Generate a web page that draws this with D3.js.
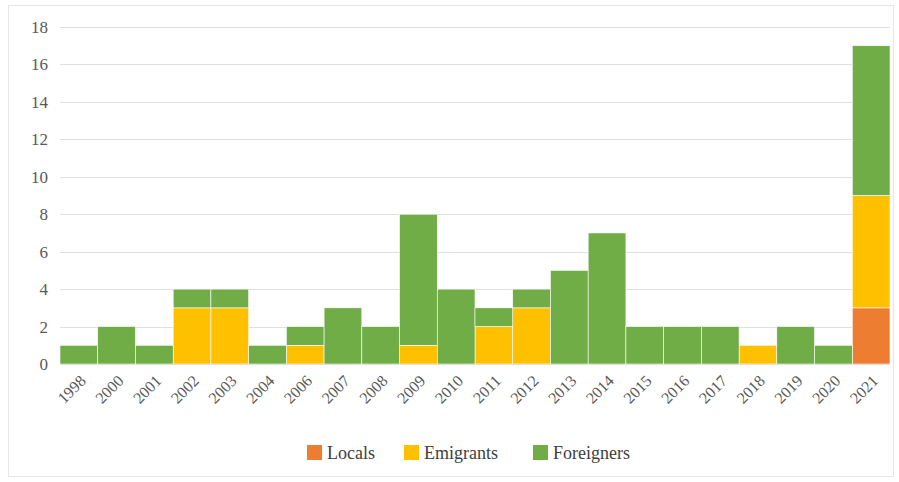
<!DOCTYPE html>
<html>
<head>
<meta charset="utf-8">
<script src="https://cdn.jsdelivr.net/npm/d3@7"></script>
<style>
  body { margin: 0; background: #fff; }
  svg { display: block; }
  svg text { font-family: 'Liberation Serif', serif !important; }
</style>
</head>
<body>
<svg id="chart"></svg>
<script>
// categories and series
var years = ['1998','2000','2001','2002','2003','2004','2006','2007','2008','2009','2010',
             '2011','2012','2013','2014','2015','2016','2017','2018','2019','2020','2021'];
var locals     = [0,0,0,0,0,0,0,0,0,0,0,0,0,0,0,0,0,0,0,0,0,3];
var emigrants  = [0,0,0,3,3,0,1,0,0,1,0,2,3,0,0,0,0,0,1,0,0,6];
var foreigners = [1,2,1,1,1,1,1,3,2,7,4,1,1,5,7,2,2,2,0,2,1,8];
var seriesNames = ['Locals', 'Emigrants', 'Foreigners'];
var yTicks = [0,2,4,6,8,10,12,14,16,18];

function main() {
    const width = 899;
    const height = 482;
    const left = 60, right = 890, top = 27, bottom = 364;
    const colors = { Locals: '#ED7D31', Emigrants: '#FFC000', Foreigners: '#70AD47' };
    const font = "'Liberation Serif', serif";

    const svg = d3.select('#chart')
        .attr('width', width)
        .attr('height', height);

    // outer frame
    svg.append('rect')
        .attr('x', 8.5).attr('y', 5.5)
        .attr('width', 885).attr('height', 471)
        .attr('fill', 'none')
        .attr('stroke', '#e6e6e6');

    var table = years.map(function(y, i) {
        return { year: y, Locals: locals[i], Emigrants: emigrants[i], Foreigners: foreigners[i] };
    });
    var stacked = d3.stack().keys(seriesNames)(table);

    var x = d3.scaleBand().domain(years).range([left, right]).padding(0);
    var y = d3.scaleLinear().domain([0, 18]).range([bottom, top]);

    // grid lines
    svg.append('g')
        .selectAll('line')
        .data(yTicks.filter(d => d > 0))
        .join('line')
        .attr('x1', left).attr('x2', right)
        .attr('y1', d => Math.round(y(d)) + 0.5)
        .attr('y2', d => Math.round(y(d)) + 0.5)
        .attr('stroke', '#e0e0e0')
        .attr('stroke-width', 1);

    // y labels
    svg.append('g')
        .selectAll('text')
        .data(yTicks)
        .join('text')
        .attr('x', 48)
        .attr('y', d => y(d))
        .attr('dy', '0.35em')
        .attr('text-anchor', 'end')
        .style('font-family', font, 'important')
        .style('font-size', '17px')
        .style('fill', '#595959')
        .text(d => d);

    // bars
    svg.append('g')
        .selectAll('g')
        .data(stacked)
        .join('g')
        .attr('fill', d => colors[d.key])
        .selectAll('rect')
        .data(d => d)
        .join('rect')
        .attr('x', d => x(d.data.year))
        .attr('width', x.bandwidth())
        .attr('y', d => y(d[1]))
        .attr('height', d => y(d[0]) - y(d[1]))
        .attr('stroke', d => (d[1] - d[0]) > 0 ? '#ffffff' : 'none')
        .attr('stroke-width', 0.6);

    // axis baseline
    svg.append('line')
        .attr('x1', left).attr('x2', right)
        .attr('y1', bottom + 0.5).attr('y2', bottom + 0.5)
        .attr('stroke', '#e0e0e0');

    // x labels
    svg.append('g')
        .selectAll('text')
        .data(years)
        .join('text')
        .attr('transform', d => 'translate(' + (x(d) + x.bandwidth() / 2 + 4) + ',' + (bottom + 14) + ') rotate(-45)')
        .attr('text-anchor', 'end')
        .attr('dy', '0.35em')
        .style('font-family', font, 'important')
        .style('font-size', '16px')
        .style('fill', '#595959')
        .text(d => d);

    // legend
    var legendX = [307, 404, 533];
    var legend = svg.append('g')
        .selectAll('g')
        .data(seriesNames)
        .join('g')
        .attr('transform', (d, i) => 'translate(' + legendX[i] + ',445)');
    legend.append('rect')
        .attr('width', 15).attr('height', 15)
        .attr('fill', d => colors[d]);
    legend.append('text')
        .attr('x', 20).attr('y', 8)
        .attr('dy', '0.35em')
        .style('font-family', font, 'important')
        .style('font-size', '18px')
        .style('fill', '#404040')
        .text(d => d);
}
main();
</script>
</body>
</html>
